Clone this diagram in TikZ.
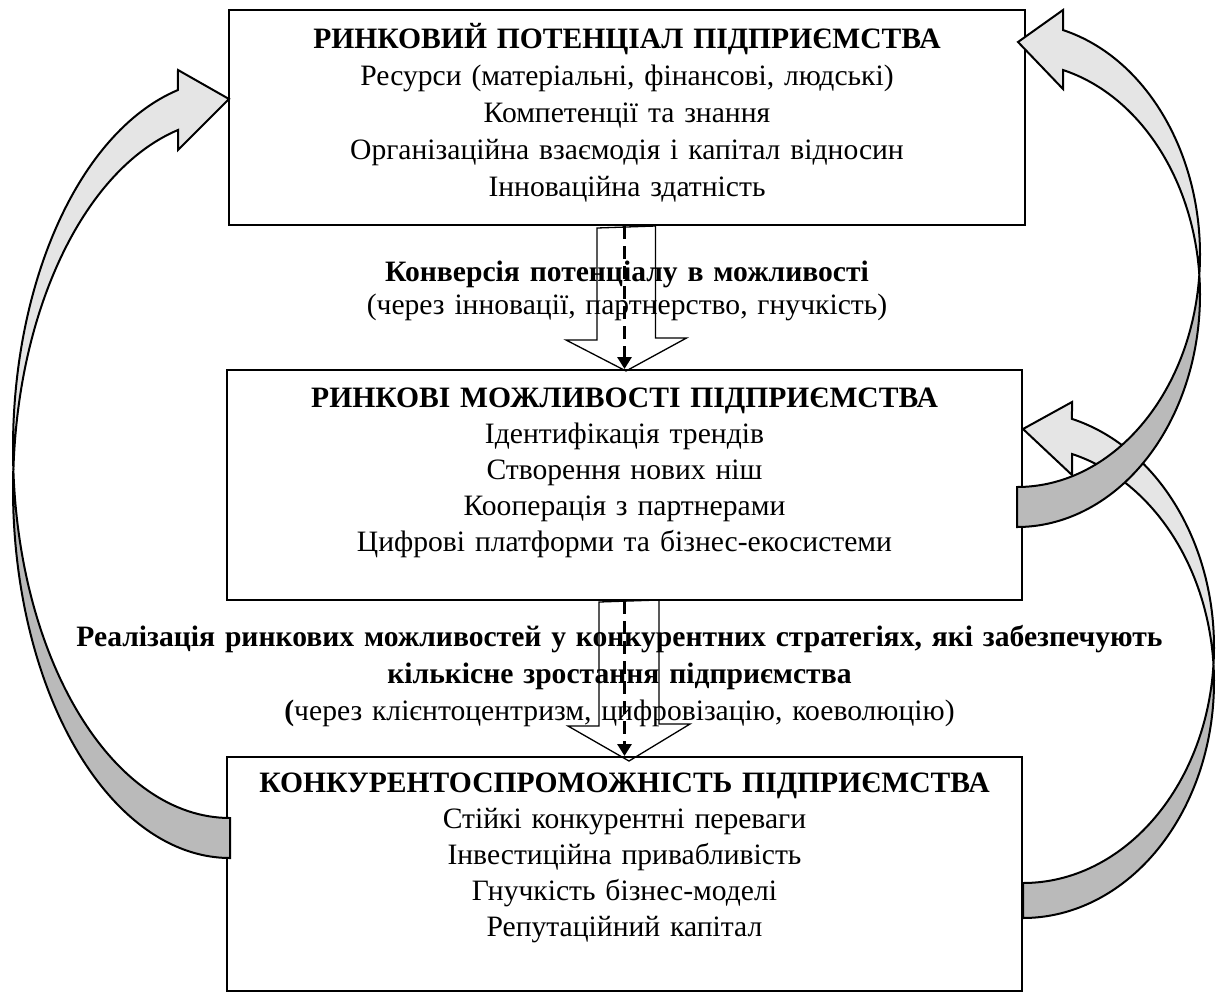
\documentclass[tikz,border=0pt]{standalone}
\usepackage{fontspec}
\setmainfont{Liberation Serif}
\usetikzlibrary{positioning}
\usetikzlibrary{calc}
\usetikzlibrary{arrows.meta}

\definecolor{arcface}{gray}{0.9}
\definecolor{arcback}{gray}{0.73}

\tikzset{
    stage/.style={draw, line width=2pt, minimum width=795pt, inner sep=0pt},
    stagetext/.style={anchor=base, text width=780pt, align=center, inner sep=0pt, font=\fontsize{29.6}{36}\selectfont},
    linktext/.style={anchor=base, text width=1180pt, align=center, inner sep=0pt, font=\fontsize{29.6}{37}\selectfont},
    hollow/.style={draw, line width=1.3pt, line join=miter},
    flow/.style={line width=3pt, dash pattern=on 13pt off 7pt, -{Triangle[width=14pt,length=12pt]}},
    bendface/.style={draw, line width=2pt, fill=arcface},
    bendback/.style={draw, line width=2pt, fill=arcback},
}

\begin{document}
\begin{tikzpicture}[x=1pt, y=-1pt]
    \useasboundingbox (0,0) rectangle (1216,994);

    % the three stages
    \node[stage, minimum width=796pt, minimum height=215pt] (pot) at (627,117.5) {};
    \node[stage, minimum height=230pt] (opp) at (624.5,485) {};
    \node[stage, minimum height=234pt] (cmp) at (624.5,874) {};

    % feedback: competitiveness -> potential
    \path[bendface] ([shift={(230,448.6)}]176.9:217 and 369.4) arc[start angle=176.9, end angle=256.1, x radius=217, y radius=369.4]
        -- (178,70) -- (229,99) -- (178,150) -- (178,130)
        arc[start angle=256.1, end angle=183.1, x radius=217, y radius=369.4] -- cycle;
    \path[bendback] ([shift={(230,488.6)}]183.1:217 and 369.4) arc[start angle=183.1, end angle=90, x radius=217, y radius=369.4]
        -- (230,818) arc[start angle=90, end angle=176.9, x radius=217, y radius=369.4] -- cycle;

    % feedback: competitiveness -> opportunities
    \path[bendface] ([shift={(1023,647)}]4.25:191 and 236) arc[start angle=4.25, end angle=-75.14, x radius=191, y radius=236]
        -- (1072,402) -- (1023,429) -- (1072,475) -- (1072,454)
        arc[start angle=-75.14, end angle=-4.25, x radius=191, y radius=236] -- cycle;
    \path[bendback] ([shift={(1023,682)}]-4.25:191 and 236) arc[start angle=-4.25, end angle=90, x radius=191, y radius=236]
        -- (1023,883) arc[start angle=90, end angle=4.25, x radius=191, y radius=236] -- cycle;

    % feedback: opportunities -> potential
    \path[bendface] ([shift={(1017,254.8)}]4.94:183 and 232.2) arc[start angle=4.94, end angle=-75.44, x radius=183, y radius=232.2]
        -- (1063,10) -- (1018,42) -- (1063,89) -- (1063,70)
        arc[start angle=-75.44, end angle=-4.94, x radius=183, y radius=232.2] -- cycle;
    \path[bendback] ([shift={(1017,294.8)}]-4.94:183 and 232.2) arc[start angle=-4.94, end angle=90, x radius=183, y radius=232.2]
        -- (1017,487) arc[start angle=90, end angle=4.94, x radius=183, y radius=232.2] -- cycle;

    % block arrows between stages
    \draw[hollow] ($(pot.south)+(-30,2)$) -- ++(0,112) -- ++(-31,0) -- ($(opp.north)+(1.5,2)$)
        -- ++(60.5,-33) -- ++(-31,0) -- ++(0,-112) -- cycle;
    \draw[hollow] ($(opp.south)+(-25.5,1)$) -- ++(0,124) -- ++(-31,0) -- ($(cmp.north)+(4.5,5)$)
        -- ++(61,-37) -- ++(-31,0) -- ++(0,-124) -- cycle;

    \draw[flow] (pot.south -| opp.north) -- (opp.north);
    \draw[flow] (opp.south) -- (cmp.north);

    % texts
    \node[stagetext, font=\fontsize{29.6}{37}\selectfont] (pot-t) at ([yshift=-39pt]pot.north) {\textbf{РИНКОВИЙ ПОТЕНЦІАЛ ПІДПРИЄМСТВА}\\
        Ресурси (матеріальні, фінансові, людські)\\Компетенції та знання\\
        Організаційна взаємодія і капітал відносин\\Інноваційна здатність};
    \node[stagetext] (opp-t) at ([yshift=-38pt]opp.north) {\textbf{РИНКОВІ МОЖЛИВОСТІ ПІДПРИЄМСТВА}\\
        Ідентифікація трендів\\Створення нових ніш\\Кооперація з партнерами\\
        Цифрові платформи та бізнес-екосистеми};
    \node[stagetext] (cmp-t) at ([yshift=-36pt]cmp.north) {\textbf{КОНКУРЕНТОСПРОМОЖНІСТЬ ПІДПРИЄМСТВА}\\
        Стійкі конкурентні переваги\\Інвестиційна привабливість\\Гнучкість бізнес-моделі\\
        Репутаційний капітал};

    \node[linktext, font=\fontsize{29.6}{33}\selectfont] (conv) at ([yshift=-55pt]pot.south) {\textbf{Конверсія потенціалу в можливості}\\
        (через інновації, партнерство, гнучкість)};
    \node[linktext] (real) at ($(opp.south)+(-5,45)$) {\textbf{Реалізація ринкових можливостей у конкурентних стратегіях, які забезпечують}\\
        \textbf{кількісне зростання підприємства}\\
        \textbf{(}через клієнтоцентризм, цифровізацію, коеволюцію)};
\end{tikzpicture}
\end{document}
